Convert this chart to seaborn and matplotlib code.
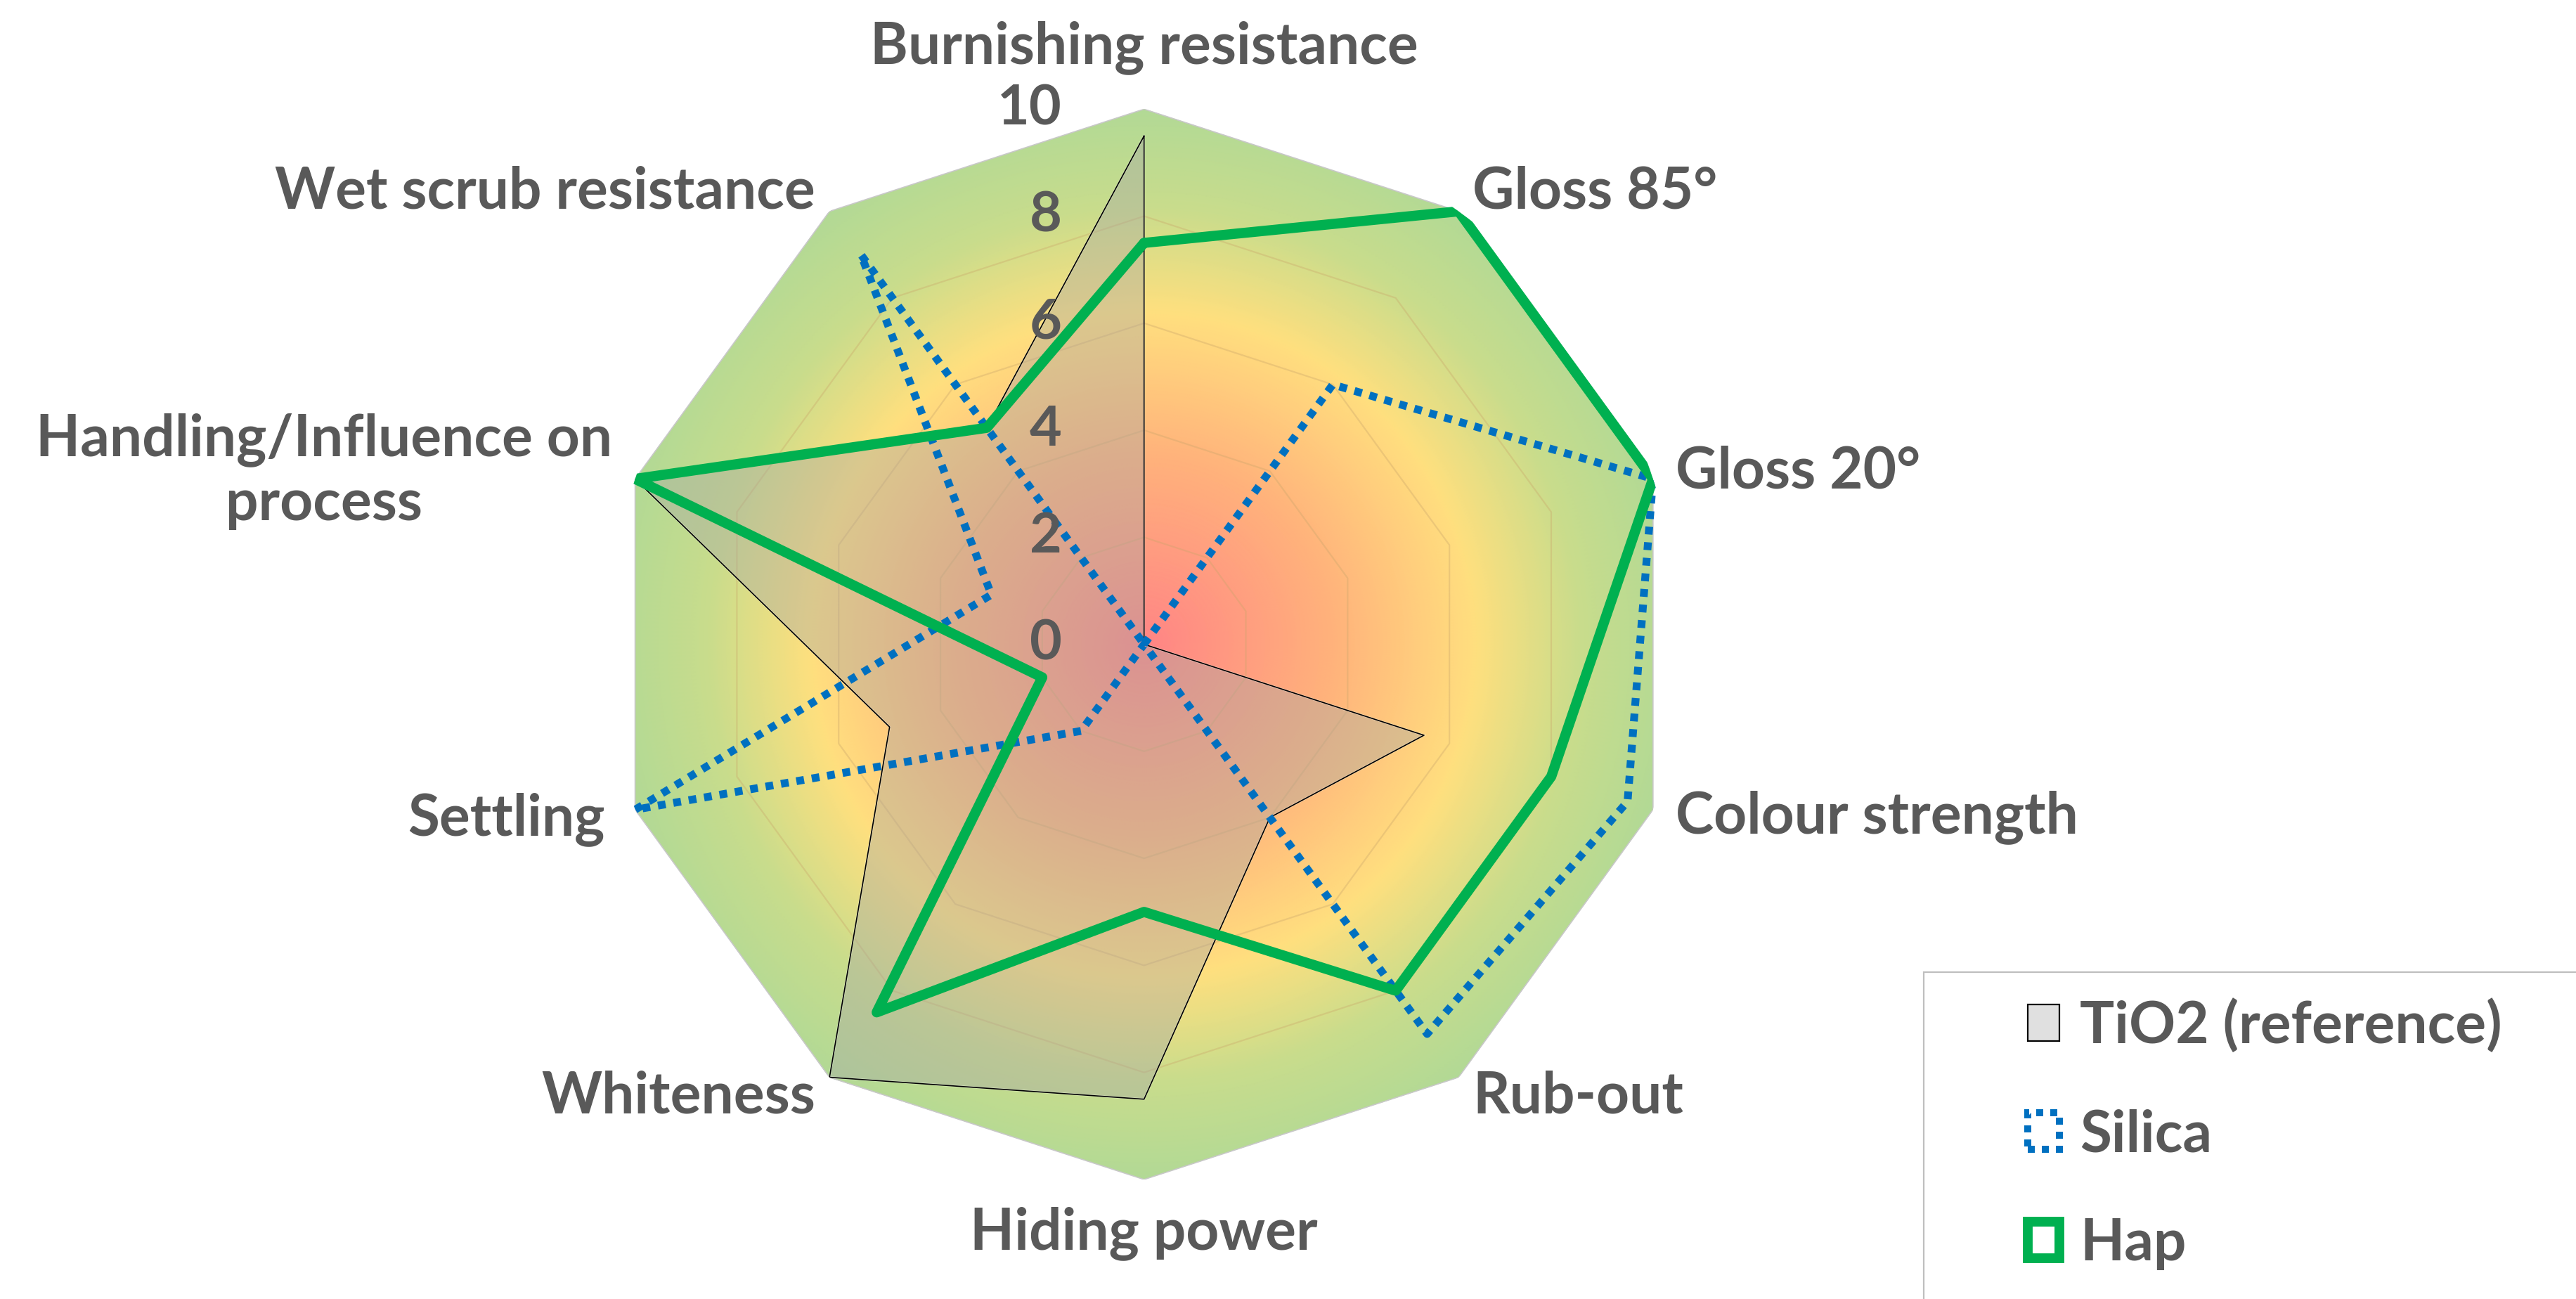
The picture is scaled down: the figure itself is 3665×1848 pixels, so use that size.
import numpy as np
import matplotlib
matplotlib.use("Agg")
import matplotlib.pyplot as plt
import seaborn as sns
from matplotlib.colors import LinearSegmentedColormap
from matplotlib.patches import Patch, Rectangle
from matplotlib.transforms import offset_copy

# Data (scale 0-10)
categories = ["Burnishing resistance", "Gloss 85°", "Gloss 20°", "Colour strength",
              "Rub-out", "Hiding power", "Whiteness", "Settling",
              "Handling/Influence on\nprocess", "Wet scrub resistance"]
tio2 = [9.5, 0, 0, 5.5, 4, 8.5, 10, 5, 10, 5]
silica = [0, 6, 10, 9.5, 9, 0, 2, 10, 3, 9]
hap = [7.5, 10, 10, 8, 8, 5, 8.5, 2, 10, 5]
series_names = ["TiO2 (reference)", "Silica", "Hap"]
ticks = [0, 2, 4, 6, 8, 10]

sns.set_theme(style="white")
plt.rcParams["font.family"] = ["Lato", "DejaVu Sans"]
plt.rcParams["font.weight"] = "bold"

TXT = "#595959"
BLUE = "#0070C0"
GREEN = "#00B050"
FS = 29.5

n = len(categories)
angles = np.linspace(0, 2 * np.pi, n, endpoint=False)
closed = np.append(angles, 2 * np.pi)


def close(v):
    return np.append(v, v[0])


fig = plt.figure(figsize=(18.33, 9.24), dpi=200)
ax = fig.add_axes([0.2363, 0.092, 0.4154, 0.824], projection="polar")
ax.set_theta_zero_location("N")
ax.set_theta_direction(-1)

# gradient background clipped to the outer decagon
outer = ax.fill(closed, np.full(n + 1, 10), facecolor="none",
                edgecolor="#C8C8C8", lw=0.6, zorder=1)[0]
cmap = LinearSegmentedColormap.from_list(
    "bg", [(0, "#FF8585"), (0.35, "#FFB27B"), (0.62, "#FFDF7E"),
           (0.82, "#C8DC8C"), (1, "#B2D995")])
tg = np.linspace(0, 2 * np.pi, 721)
rg = np.linspace(0, 10, 120)
T, R = np.meshgrid(tg, rg)
mesh = ax.pcolormesh(T, R, R, cmap=cmap, vmin=0, vmax=10,
                     shading="gouraud", zorder=0, rasterized=True)
mesh.set_clip_path(outer)

# faint grid decagons
for v in ticks[1:-1]:
    ax.plot(closed, np.full(n + 1, v), color="#C9A56A", alpha=0.35, lw=0.8, zorder=2)

# series
ax.fill(closed, close(tio2), facecolor="#A6A6A6", alpha=0.4, zorder=3)
sns.lineplot(x=closed, y=close(tio2), sort=False, estimator=None, ax=ax,
             color="black", lw=0.6, zorder=3)
sns.lineplot(x=closed, y=close(silica), sort=False, estimator=None, ax=ax,
             color=BLUE, lw=4.0, linestyle=(0, (1, 1)), dash_capstyle="butt", zorder=4)
sns.lineplot(x=closed, y=close(hap), sort=False, estimator=None, ax=ax,
             color=GREEN, lw=5.2, solid_joinstyle="round", zorder=5)

ax.set_ylim(0, 10)
ax.set_xticks([])
ax.set_yticks([])
ax.set_xlabel("")
ax.set_ylabel("")
ax.grid(False)
ax.spines["polar"].set_visible(False)
ax.patch.set_visible(False)

# radial tick labels
trans = offset_copy(ax.transData, fig=fig, x=-42, units="points")
for t in ticks:
    ax.text(0, t, str(t), transform=trans, ha="right", va="center",
            fontsize=28.5, color=TXT, fontweight="bold", zorder=6)

# category labels
for i, (a, lab) in enumerate(zip(angles, categories)):
    if i == 0:
        ax.text(a, 11.15, lab, ha="center", va="center", fontsize=FS, color=TXT)
    elif i == 5:
        ax.text(a, 11.0, lab, ha="center", va="center", fontsize=FS, color=TXT)
    elif i < 5:
        ax.text(a, 10.45, lab, ha="left", va="center", fontsize=FS, color=TXT)
    else:
        r = 10.6 if i == 7 else 10.45
        ax.text(a, r, lab, ha="right", va="center", fontsize=FS, color=TXT,
                multialignment="center", linespacing=1.25)

# legend with a frame that runs off the canvas
fig.add_artist(Rectangle((0.7466, -0.1), 0.4, 0.3516, transform=fig.transFigure,
                         fill=False, edgecolor="#BFBFBF", lw=0.8))
handles = [Patch(facecolor="#E0E0E0", edgecolor="black", lw=0.8),
           Patch(facecolor="none", edgecolor=BLUE, lw=3.6, linestyle=(0, (1, 1))),
           Patch(facecolor="none", edgecolor=GREEN, lw=5, joinstyle="round")]
leg = fig.legend(handles, series_names, loc="center left", bbox_to_anchor=(0.787, 0.127),
                 frameon=False, fontsize=FS, handlelength=0.55, handleheight=0.6,
                 handletextpad=0.35, labelspacing=0.97, borderpad=0, borderaxespad=0)
for t in leg.get_texts():
    t.set_color(TXT)

fig.savefig("out.png", dpi=200)
